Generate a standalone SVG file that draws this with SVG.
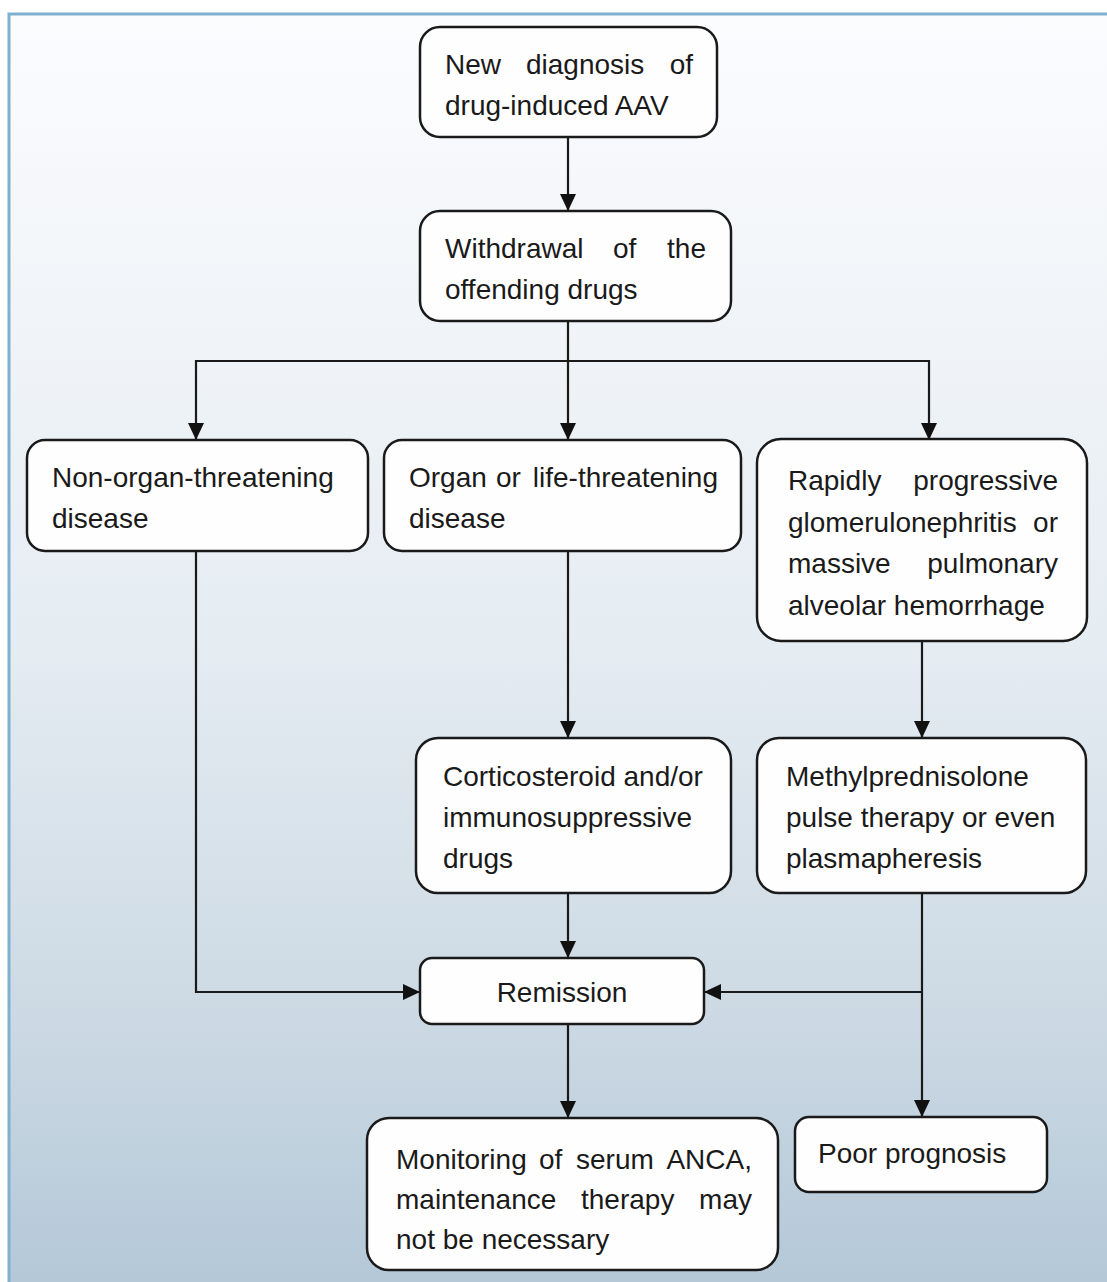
<svg xmlns="http://www.w3.org/2000/svg" width="1107" height="1282" viewBox="0 0 1107 1282">
<defs>
<linearGradient id="bg" x1="0" y1="0" x2="0" y2="1">
<stop offset="0" stop-color="#fbfcfe"/>
<stop offset="0.5" stop-color="#e5ecf2"/>
<stop offset="0.78" stop-color="#cddae4"/>
<stop offset="1" stop-color="#b4c8d8"/>
</linearGradient>
<marker id="arr" markerUnits="userSpaceOnUse" markerWidth="17" markerHeight="17" viewBox="0 0 17 17" refX="17" refY="8.5" orient="auto">
<path d="M0,0.5 L17,8.5 L0,16.5 Z" fill="#111"/>
</marker>
<style>
.box{fill:#fefefe;stroke:#1a1a1a;stroke-width:2.5}
.t{font-family:"Liberation Sans",Arial,sans-serif;font-size:28px;fill:#1a1a1a}
.e{text-anchor:end}
.c{stroke:#1a1a1a;stroke-width:2.2;fill:none}
</style>
</defs>
<rect x="0" y="0" width="1107" height="1282" fill="#ffffff"/>
<rect x="9" y="14" width="1098" height="1268" fill="url(#bg)"/>
<path d="M9,1282 V14 H1107" fill="none" stroke="#7fb0d0" stroke-width="3"/>

<g id="connectors">
<path class="c" d="M568,137 V211" marker-end="url(#arr)"/>
<path class="c" d="M568,321 V440" marker-end="url(#arr)"/>
<path class="c" d="M568,361 H196 V440" marker-end="url(#arr)"/>
<path class="c" d="M568,361 H929 V440" marker-end="url(#arr)"/>
<path class="c" d="M196,551 V992 H420" marker-end="url(#arr)"/>
<path class="c" d="M568,551 V738" marker-end="url(#arr)"/>
<path class="c" d="M922,641 V738" marker-end="url(#arr)"/>
<path class="c" d="M568,893 V958" marker-end="url(#arr)"/>
<path class="c" d="M922,893 V1117" marker-end="url(#arr)"/>
<path class="c" d="M922,992 H704" marker-end="url(#arr)"/>
<path class="c" d="M568,1024 V1118" marker-end="url(#arr)"/>
</g>

<g id="n1">
<rect class="box" x="420" y="27" width="297" height="110" rx="20"/>
<text class="t" x="445" y="74">New</text>
<text class="t" x="526" y="74">diagnosis</text>
<text class="t e" x="693" y="74">of</text>
<text class="t" x="445" y="115">drug-induced AAV</text>
</g>

<g id="n2">
<rect class="box" x="420" y="211" width="311" height="110" rx="20"/>
<text class="t" x="445" y="258">Withdrawal</text>
<text class="t" x="613" y="258">of</text>
<text class="t e" x="706" y="258">the</text>
<text class="t" x="445" y="299">offending drugs</text>
</g>

<g id="n3">
<rect class="box" x="27" y="440" width="341" height="111" rx="18"/>
<text class="t" x="52" y="487">Non-organ-threatening</text>
<text class="t" x="52" y="528">disease</text>
</g>

<g id="n4">
<rect class="box" x="384" y="440" width="357" height="111" rx="18"/>
<text class="t" x="409" y="487">Organ</text>
<text class="t" x="496" y="487">or</text>
<text class="t e" x="718" y="487">life-threatening</text>
<text class="t" x="409" y="528">disease</text>
</g>

<g id="n5">
<rect class="box" x="757" y="439" width="330" height="202" rx="24"/>
<text class="t" x="788" y="490">Rapidly</text>
<text class="t e" x="1058" y="490">progressive</text>
<text class="t" x="788" y="532">glomerulonephritis</text>
<text class="t e" x="1058" y="532">or</text>
<text class="t" x="788" y="573">massive</text>
<text class="t e" x="1058" y="573">pulmonary</text>
<text class="t" x="788" y="615">alveolar hemorrhage</text>
</g>

<g id="n6">
<rect class="box" x="416" y="738" width="315" height="155" rx="22"/>
<text class="t" x="443" y="786">Corticosteroid and/or</text>
<text class="t" x="443" y="827">immunosuppressive</text>
<text class="t" x="443" y="868">drugs</text>
</g>

<g id="n7">
<rect class="box" x="757" y="738" width="329" height="155" rx="22"/>
<text class="t" x="786" y="786">Methylprednisolone</text>
<text class="t" x="786" y="827">pulse therapy or even</text>
<text class="t" x="786" y="868">plasmapheresis</text>
</g>

<g id="n8">
<rect class="box" x="420" y="958" width="284" height="66" rx="12"/>
<text class="t" x="562" y="1002" text-anchor="middle">Remission</text>
</g>

<g id="n9">
<rect class="box" x="367" y="1118" width="411" height="152" rx="22"/>
<text class="t" x="396" y="1169">Monitoring</text>
<text class="t" x="539" y="1169">of</text>
<text class="t" x="576" y="1169">serum</text>
<text class="t e" x="752" y="1169">ANCA,</text>
<text class="t" x="396" y="1209">maintenance</text>
<text class="t" x="581" y="1209">therapy</text>
<text class="t e" x="752" y="1209">may</text>
<text class="t" x="396" y="1249">not be necessary</text>
</g>

<g id="n10">
<rect class="box" x="795" y="1117" width="252" height="75" rx="14"/>
<text class="t" x="818" y="1163">Poor prognosis</text>
</g>
</svg>
